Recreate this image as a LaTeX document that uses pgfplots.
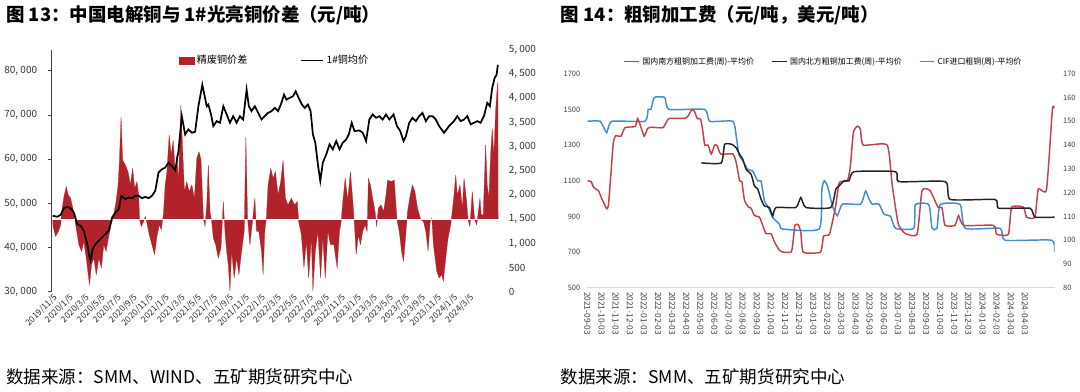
\documentclass[border=0pt]{standalone}
\usepackage{pgfplots}
\pgfplotsset{compat=1.18}
\usepackage{fontspec}
\setmainfont{Noto Sans CJK SC}
\definecolor{barred}{RGB}{178,34,42}
\definecolor{lred}{RGB}{196,64,72}
\definecolor{lblue}{RGB}{64,140,208}
\definecolor{lblack}{RGB}{35,35,35}
\begin{document}
\begin{tikzpicture}
\begin{scope}[x=0.75pt,y=-0.75pt]
\useasboundingbox[fill=white] (0,0) rectangle (1080,393);
\node[anchor=west, inner sep=0pt, font=\fontsize{13.9}{14}\selectfont\bfseries] at (5,15) {图 13：中国电解铜与 1\#光亮铜价差（元/吨）};
\node[anchor=west, inner sep=0pt, font=\fontsize{13.9}{14}\selectfont\bfseries] at (562,15) {图 14：粗铜加工费（元/吨，美元/吨）};
\node[anchor=west, inner sep=0pt, font=\fontsize{13.2}{14}\selectfont] at (5,378) {数据来源：SMM、WIND、五矿期货研究中心};
\node[anchor=west, inner sep=0pt, font=\fontsize{13.2}{14}\selectfont] at (562,378) {数据来源：SMM、五矿期货研究中心};
\end{scope}

% ---------- Left chart: bars (right axis)
\begin{axis}[
  at={(38.25pt,-219.75pt)}, anchor=south west, scale only axis,
  width=336.75pt, height=182.25pt,
  xmin=-0.12, xmax=55.72, ymin=0, ymax=5000,
  axis y line*=right, axis x line*=bottom,
  x axis line style={draw=none}, y axis line style={draw=none},
  major tick length=0pt, scaled y ticks=false,
  xtick={0,2,...,52},
  xticklabels={2019/11/5,2020/1/5,2020/3/5,2020/5/5,2020/7/5,2020/9/5,2020/11/5,2021/1/5,2021/3/5,2021/5/5,2021/7/5,2021/9/5,2021/11/5,2022/1/5,2022/3/5,2022/5/5,2022/7/5,2022/9/5,2022/11/5,2023/1/5,2023/3/5,2023/5/5,2023/7/5,2023/9/5,2023/11/5,2024/1/5,2024/3/5},
  xticklabel style={rotate=45, anchor=north east, font=\fontsize{6.5}{7}\selectfont, inner sep=0.5pt, text=black!80},
  ytick={0,500,...,5000},
  yticklabels={0,500,{1, 000},{1, 500},{2, 000},{2, 500},{3, 000},{3, 500},{4, 000},{4, 500},{5, 000}},
  yticklabel style={font=\fontsize{7.5}{8}\selectfont, anchor=west, xshift=4pt, text=black!80},
]
\addplot[fill=barred, draw=barred, line width=0.2pt] coordinates {
(0,1500)(0.04,1349)(0.37,1143)(0.71,1246)(1.0,1383)(1.12,1658)(1.41,1966)(1.70,2172)(1.95,2000)(2.24,1932)(2.52,1726)(2.77,1486)(3.07,1178)(3.27,972)(3.61,835)(3.89,1040)(4.19,697)(4.44,354)(4.60,149)(4.85,560)(5.14,697)(5.44,354)(5.76,697)(6.09,492)(6.38,972)(6.68,835)(7.00,1143)(7.30,1383)(7.62,1589)(7.92,1864)(8.17,2207)(8.33,2687)(8.54,3613)(8.74,2721)(9.08,2618)(9.42,2481)(9.70,2207)(9.99,2550)(10.24,2138)(10.53,2275)(10.73,2000)(10.86,1486)(11.07,1349)(11.36,1452)(11.57,1555)(11.78,1418)(12.06,1178)(12.40,972)(12.72,766)(13.02,1143)(13.31,1383)(13.56,1280)(13.84,1623)(14.05,2207)(14.27,2481)(14.55,3236)(14.80,2824)(15.05,3133)(15.30,2481)(15.51,2824)(15.71,2275)(16.01,3853)(16.21,3030)(16.46,2069)(16.75,2275)(17.04,2069)(17.38,2207)(17.70,1932)(18.00,2755)(18.28,2893)(18.53,2721)(18.82,1521)(19.03,1349)(19.24,1795)(19.44,2618)(19.65,1658)(19.86,1452)(20.06,1109)(20.36,972)(20.68,697)(21.02,903)(21.31,1864)(21.52,1246)(21.73,835)(21.93,560)(22.14,12)(22.35,835)(22.67,286)(22.97,697)(23.26,354)(23.59,835)(23.92,1246)(24.13,3201)(24.34,1521)(24.63,972)(24.91,1383)(25.25,1932)(25.46,1246)(25.75,1246)(26.08,835)(26.28,354)(26.49,1246)(26.70,1555)(26.90,2207)(27.24,2550)(27.52,2344)(27.82,2481)(28.15,2000)(28.48,2275)(28.77,2721)(29.07,1932)(29.39,1795)(29.81,1932)(30.22,1795)(30.56,1864)(30.72,1452)(31.06,1178)(31.38,492)(31.68,1040)(31.97,286)(32.30,1109)(32.50,12)(32.80,835)(33.12,1246)(33.46,286)(33.74,1109)(34.04,286)(34.37,1246)(34.70,972)(35.11,972)(35.53,492)(35.82,1246)(36.03,1452)(36.23,1864)(36.53,2344)(36.85,1900)(37.19,2481)(37.47,1900)(37.69,1383)(37.90,766)(38.18,1178)(38.43,972)(38.72,1246)(39.02,1383)(39.27,1246)(39.43,2344)(39.68,2207)(39.96,1932)(40.26,1658)(40.46,1349)(40.67,1726)(41.01,1795)(41.33,1658)(41.63,2000)(41.83,2309)(42.25,2275)(42.66,2309)(43.00,1486)(43.28,1246)(43.57,835)(43.82,629)(44.03,1040)(44.32,1658)(44.65,2000)(44.94,2207)(45.24,2069)(45.56,1726)(45.98,1486)(46.31,1452)(46.60,1246)(46.89,835)(47.14,1452)(47.35,1521)(47.55,972)(47.97,423)(48.26,286)(48.59,354)(48.79,217)(49.09,697)(49.38,1109)(49.71,1383)(50.04,1864)(50.34,2412)(50.53,2000)(50.87,2207)(51.16,1726)(51.37,2344)(51.70,1864)(51.87,1486)(52.11,1349)(52.40,2069)(52.70,1486)(52.95,1383)(53.11,1589)(53.36,1932)(53.52,1589)(53.77,1589)(54.07,3030)(54.27,2207)(54.48,1932)(54.69,2824)(54.89,3373)(55.10,2824)(55.31,3716)(55.44,4059)(55.60,4333)(55.63,1500)
};
\draw[white, line width=0.5pt] (axis cs:-0.12,1500) -- (axis cs:55.72,1500);
\end{axis}

% ---------- Left chart: copper price line (left axis)
\begin{axis}[
  at={(38.25pt,-219.75pt)}, anchor=south west, scale only axis,
  width=336.75pt, height=182.25pt,
  xmin=-0.12, xmax=55.72, ymin=30000, ymax=84730,
  axis x line=none, axis y line*=left,
  y axis line style={draw=black!75, line width=0.7pt, -},
  tick align=outside, major tick length=2.5pt,
  tick style={draw=black!75, line width=0.6pt},
  scaled y ticks=false,
  ytick={30000,40000,...,80000},
  yticklabels={{30, 000},{40, 000},{50, 000},{60, 000},{70, 000},{80, 000}},
  yticklabel style={font=\fontsize{7.5}{8}\selectfont, text=black!80, xshift=-5pt},
  legend columns=2,
  legend style={at={(0.283,0.955)}, anchor=west, draw=none, fill=none,
    font=\fontsize{7.6}{8}\selectfont, inner sep=0pt,
    /tikz/every even column/.append style={column sep=38pt}},
]
\addlegendimage{legend image code/.code={\fill[barred] (0pt,-2.7pt) rectangle (11.5pt,2.7pt);}}
\addlegendentry{精废铜价差}
\addplot[black, line width=1.3pt, legend image code/.code={\draw[black, line width=1.2pt] (0pt,0pt) -- (16.5pt,0pt);}] coordinates {
(0,47190)(0.58,46970)(1.0,47420)(1.41,48920)(1.83,49220)(2.24,48920)(2.65,47940)(3.07,45320)(3.48,44940)(3.89,43810)(4.32,40810)(4.60,37810)(4.73,37060)(5.01,39690)(5.35,40810)(5.76,41560)(6.18,42310)(6.59,43060)(7.00,43810)(7.43,46820)(7.84,47940)(8.25,48700)(8.58,51700)(9.08,50950)(9.49,51320)(9.91,51170)(10.32,51700)(10.73,51700)(11.16,51170)(11.57,51470)(11.98,51170)(12.40,51700)(12.81,52820)(13.22,56950)(13.64,57700)(14.05,58080)(14.47,59210)(14.89,58460)(15.30,57480)(15.71,61830)(16.13,69720)(16.54,65590)(16.95,66720)(17.38,65970)(17.79,66190)(18.20,71970)(18.69,76850)(18.94,74600)(19.24,71970)(19.44,72350)(19.78,70100)(20.06,67470)(20.48,68590)(20.90,68220)(21.31,71970)(21.73,70100)(22.14,68220)(22.55,69720)(22.97,68220)(23.38,69720)(23.79,68970)(24.22,75720)(24.50,71970)(24.84,70850)(25.25,71970)(25.66,70470)(26.08,68970)(26.49,69720)(26.90,70470)(27.33,70850)(27.74,71590)(28.15,70850)(28.57,72720)(28.89,74600)(29.19,73470)(29.60,73850)(30.01,74220)(30.35,75350)(30.72,73850)(31.13,72350)(31.47,71590)(31.88,72350)(32.21,70850)(32.50,65590)(32.80,63710)(33.12,58830)(33.42,55080)(33.74,59210)(34.17,61080)(34.58,63340)(34.99,62210)(35.41,64090)(35.82,62210)(36.23,63710)(36.65,64460)(36.98,65590)(37.35,68220)(37.69,66340)(38.31,66490)(38.72,65970)(39.14,64090)(39.55,68970)(39.96,70100)(40.39,69340)(40.80,69720)(41.21,68970)(41.63,70100)(42.04,68970)(42.57,70100)(43.00,67470)(43.41,66340)(43.82,64090)(44.12,65210)(44.53,68220)(44.94,69340)(45.36,68590)(45.77,69720)(46.18,70470)(46.60,68590)(47.01,69720)(47.43,69720)(47.85,68970)(48.26,67470)(48.88,65970)(49.50,67470)(50.12,68590)(50.53,69720)(50.96,68590)(51.37,68970)(51.78,69720)(52.20,67850)(52.61,68220)(53.02,68590)(53.44,68220)(53.86,69720)(54.27,72720)(54.60,71970)(54.89,76100)(55.19,78350)(55.44,79100)(55.60,81350)
};
\addlegendentry{1\#铜均价}
\end{axis}

% ---------- Right chart: CIF (right axis)
\begin{axis}[
  at={(441.75pt,-216.75pt)}, anchor=south west, scale only axis,
  width=351.75pt, height=161.25pt,
  xmin=0, xmax=33.1, ymin=80, ymax=170,
  axis x line=none, axis y line*=right,
  y axis line style={draw=none}, major tick length=0pt,
  ytick={80,90,...,170},
  yticklabels={80,90,100,110,120,130,140,150,160,170},
  yticklabel style={font=\fontsize{5.6}{6}\selectfont, anchor=west, xshift=3pt, text=black!75},
]
\addplot[lblue, line width=1.1pt, smooth, tension=0.3] coordinates {
(0,150)(0.90,150)(1.36,145.2)(1.71,150)(4.07,150)(4.30,155)(4.50,155)(4.73,160)(5.48,160)(5.77,155)(8.31,155)(8.66,150)(10.30,150)(10.54,143.8)(10.73,136.1)(11.01,133.3)(11.36,129.8)(11.71,129.1)(12.07,124.9)(12.30,124.9)(12.54,116.5)(12.77,114.4)(13.13,109.6)(13.60,106.8)(13.83,104.7)(16.42,104.7)(16.61,121.4)(16.78,125)(17.01,122.8)(17.36,114.4)(17.71,110.3)(18.07,115.2)(19.36,115.2)(19.71,120.7)(19.95,117.3)(20.18,115.2)(20.66,115.2)(21.01,111)(21.48,110)(21.83,105)(23.13,105)(23.24,115)(24.19,115)(24.42,105)(24.77,105)(25.00,115)(26.41,115)(26.77,105)(29.24,105)(29.60,100)(32.89,100)(33.10,95)
};
\end{axis}

% ---------- Right chart: red & black (left axis)
\begin{axis}[
  at={(441.75pt,-216.75pt)}, anchor=south west, scale only axis,
  width=351.75pt, height=161.25pt,
  xmin=0, xmax=33.1, ymin=500, ymax=1700,
  axis x line*=bottom, axis y line*=left,
  x axis line style={draw=black!15, line width=0.8pt, -},
  y axis line style={draw=none}, major tick length=0pt,
  xtick={0,1,...,31},
  xticklabels={2021-09-03,2021-10-03,2021-11-03,2021-12-03,2022-01-03,2022-02-03,2022-03-03,2022-04-03,2022-05-03,2022-06-03,2022-07-03,2022-08-03,2022-09-03,2022-10-03,2022-11-03,2022-12-03,2023-01-03,2023-02-03,2023-03-03,2023-04-03,2023-05-03,2023-06-03,2023-07-03,2023-08-03,2023-09-03,2023-10-03,2023-11-03,2023-12-03,2024-01-03,2024-02-03,2024-03-03,2024-04-03},
  xticklabel style={rotate=-90, anchor=west, font=\fontsize{6.3}{7}\selectfont, inner sep=1pt, xshift=2pt, text=black!75},
  ytick={500,700,...,1700},
  yticklabels={500,700,900,1100,1300,1500,1700},
  yticklabel style={font=\fontsize{5.6}{6}\selectfont, text=black!75, xshift=-2pt},
  legend columns=3,
  legend style={at={(0.0768,1.056)}, anchor=west, draw=none, fill=none,
    font=\fontsize{6}{7}\selectfont, inner sep=0pt,
    /tikz/every even column/.append style={column sep=11pt}},
  legend image code/.code={\draw[#1, line width=1.1pt] (0pt,0pt) -- (11pt,0pt);},
]
\addplot[lred, line width=1.1pt, smooth, tension=0.3] coordinates {
(0,1100)(0.26,1095)(0.42,1065)(0.66,1050)(0.78,1045)(1.01,1000)(1.25,960)(1.36,943)(1.48,960)(1.67,1147)(1.83,1315)(2.00,1352)(2.38,1350)(2.66,1398)(3.37,1404)(3.55,1448)(3.72,1417)(4.02,1350)(4.26,1393)(4.54,1400)(5.36,1398)(5.77,1448)(6.89,1450)(7.13,1463)(7.41,1500)(7.60,1486)(7.78,1448)(8.02,1445)(8.19,1370)(8.31,1300)(8.54,1300)(8.77,1250)(9.01,1300)(9.20,1296)(9.44,1250)(10.30,1250)(10.54,1203)(10.78,1100)(10.94,1095)(11.13,990)(11.41,952)(11.60,946)(11.83,905)(12.19,896)(12.42,850)(12.65,803)(13.01,803)(13.25,757)(13.60,710)(13.83,700)(14.42,700)(14.54,738)(14.70,850)(14.94,853)(15.12,812)(15.29,700)(16.51,700)(16.73,790)(17.15,800)(17.57,950)(17.85,1090)(18.42,1100)(18.63,1180)(18.84,1370)(19.12,1406)(19.34,1390)(19.55,1300)(21.24,1300)(21.59,1080)(22.02,860)(22.51,805)(23.36,800)(23.71,1045)(24.28,1045)(24.84,952)(25.12,950)(25.34,850)(26.04,850)(26.30,905)(26.66,850)(28.78,850)(29.00,800)(29.83,800)(30.06,952)(30.89,952)(31.12,896)(31.71,896)(31.95,1054)(32.53,1050)(32.95,1500)(33.10,1505)
};
\addlegendentry{国内南方粗铜加工费(周)-平均价}
\addplot[lblack, line width=1.1pt, smooth, tension=0.3] coordinates {
(8.07,1200)(9.48,1200)(9.72,1304)(10.23,1304)(10.54,1285)(10.78,1248)(11.01,1220)(11.24,1164)(11.60,1136)(11.83,1071)(12.07,1053)(12.30,997)(12.54,959)(12.89,950)(13.13,903)(13.36,950)(14.77,950)(15.12,1006)(15.48,950)(17.24,950)(17.60,1053)(17.83,1071)(18.19,1099)(18.54,1100)(18.89,1151)(21.83,1151)(22.07,1095)(25.36,1095)(25.71,995)(28.89,995)(29.13,946)(31.36,946)(31.71,896)(33.10,896)
};
\addlegendentry{国内北方粗铜加工费(周)-平均价}
\addlegendimage{lblue, line width=1.1pt}
\addlegendentry{CIF进口粗铜(周)-平均价}
\end{axis}
\end{tikzpicture}
\end{document}
